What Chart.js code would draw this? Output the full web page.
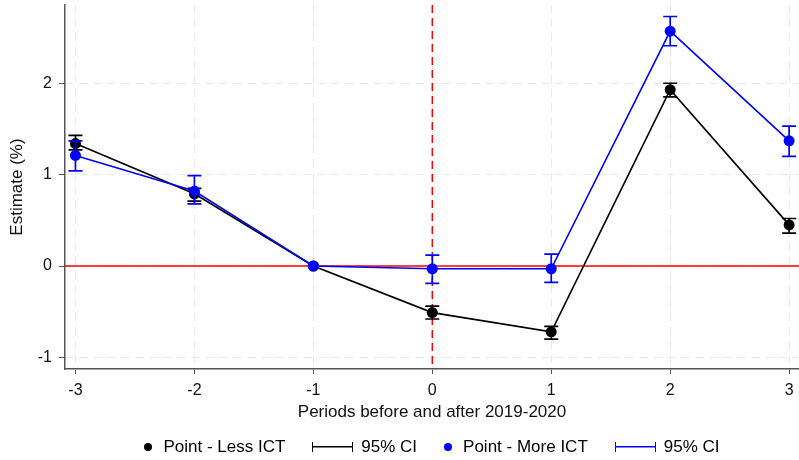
<!DOCTYPE html>
<html>
<head>
<meta charset="utf-8">
<script src="https://cdn.jsdelivr.net/npm/chart.js@4.4.0/dist/chart.umd.min.js"></script>
<style>
html, body { margin: 0; padding: 0; background: #fff; }
#wrap { position: relative; width: 799px; height: 460px; }
#legend {
  position: absolute; left: 65px; width: 734px; top: 436px; height: 22px;
  display: flex; justify-content: center; align-items: center;
  font: 17px "Liberation Sans", Arial, sans-serif; color: #000;
}
.item { display: flex; align-items: center; margin-right: 27px; }
.item:last-child { margin-right: 0; }
.dot { width: 8px; height: 8px; border-radius: 50%; margin-right: 11px; }
.ci { width: 41px; height: 10px; box-sizing: border-box; margin-right: 8px; }
</style>
</head>
<body>
<div id="wrap">
  <canvas id="chart" width="799" height="460"></canvas>
  <div id="legend"></div>
</div>
<script>
// periods relative to 2019-2020
const periods = [-3, -2, -1, 0, 1, 2, 3];

// Less ICT
const lessEst = [1.34, 0.79, 0, -0.51, -0.72, 1.93, 0.45];
const lessLo  = [1.27, 0.71, 0, -0.58, -0.80, 1.85, 0.36];
const lessHi  = [1.43, 0.85, 0, -0.44, -0.66, 2.00, 0.52];

// More ICT
const moreEst = [1.21, 0.82, 0, -0.03, -0.03, 2.57, 1.37];
const moreLo  = [1.04, 0.68, 0, -0.19, -0.18, 2.41, 1.20];
const moreHi  = [1.37, 0.99, 0, 0.12, 0.13, 2.73, 1.53];

const legendItems = [
  {kind: 'dot', color: '#000000', text: 'Point - Less ICT'},
  {kind: 'ci', color: '#000000', text: '95% CI'},
  {kind: 'dot', color: '#0000ff', text: 'Point - More ICT'},
  {kind: 'ci', color: '#0000ff', text: '95% CI'}
];

const eventPeriod = 0;
const zeroLine = 0;
const FONT = '"Liberation Sans", Arial, sans-serif';

function pts(ys){
  return periods.map((p, i) => ({x: p, y: ys[i]}));
}

// red reference lines under the data
const refLines = {
  id: 'refLines',
  beforeDatasetsDraw(chart){
    const {ctx, chartArea: a, scales: {x, y}} = chart;
    ctx.save();
    ctx.strokeStyle = '#ff0000';
    ctx.lineWidth = 1.5;
    const py = y.getPixelForValue(zeroLine);
    ctx.beginPath(); ctx.moveTo(a.left, py); ctx.lineTo(a.right, py); ctx.stroke();
    const px = x.getPixelForValue(eventPeriod);
    ctx.setLineDash([8, 5]);
    ctx.beginPath(); ctx.moveTo(px, a.top); ctx.lineTo(px, a.bottom); ctx.stroke();
    ctx.restore();
  }
};

// capped CI bars, drawn just before their own series
const errorBars = {
  id: 'errorBars',
  beforeDatasetDraw(chart, args){
    const ds = chart.data.datasets[args.index];
    if(!ds.lo) return;
    const {ctx, scales: {x, y}} = chart;
    ctx.save();
    ctx.strokeStyle = ds.borderColor;
    ctx.lineWidth = 1.7;
    periods.forEach((p, i) => {
      if(ds.lo[i] === ds.hi[i]) return;
      const px = x.getPixelForValue(p);
      const y1 = y.getPixelForValue(ds.lo[i]);
      const y2 = y.getPixelForValue(ds.hi[i]);
      ctx.beginPath();
      ctx.moveTo(px, y1); ctx.lineTo(px, y2);
      ctx.moveTo(px - 7, y1); ctx.lineTo(px + 7, y1);
      ctx.moveTo(px - 7, y2); ctx.lineTo(px + 7, y2);
      ctx.stroke();
    });
    ctx.restore();
  }
};

new Chart(document.getElementById('chart'), {
  type: 'scatter',
  data: {
    datasets: [{
      label: 'Point - More ICT',
      data: pts(moreEst),
      lo: moreLo, hi: moreHi,
      showLine: true,
      borderColor: '#0000ff',
      backgroundColor: '#0000ff',
      borderWidth: 1.6,
      pointRadius: 5.5,
      pointBorderWidth: 0
    }, {
      label: 'Point - Less ICT',
      data: pts(lessEst),
      lo: lessLo, hi: lessHi,
      showLine: true,
      borderColor: '#000000',
      backgroundColor: '#000000',
      borderWidth: 1.6,
      pointRadius: 5.5,
      pointBorderWidth: 0
    }]
  },
  options: {
    responsive: false,
    animation: false,
    devicePixelRatio: 1,
    layout: { autoPadding: false, padding: {top: 5, right: 0, bottom: 36, left: 0} },
    plugins: { legend: {display: false}, tooltip: {enabled: false} },
    scales: {
      x: {
        type: 'linear', min: -3.088, max: 3.083,
        afterFit: s => { s.height = 55; s.paddingLeft = 0; s.paddingRight = 0; },
        ticks: { stepSize: 1, includeBounds: false, padding: 7, maxRotation: 0,
                 color: '#111', font: {family: FONT, size: 16} },
        grid: { color: '#e8e8e8', lineWidth: 1, tickColor: '#555', tickLength: 5 },
        border: { color: '#555', width: 1.5, dash: [8, 6] },
        title: { display: true, text: 'Periods before and after 2019-2020', color: '#111',
                 font: {family: FONT, size: 17}, padding: {top: 0, bottom: 1} }
      },
      y: {
        min: -1.127, max: 2.856,
        afterFit: s => { s.width = 65; s.paddingTop = 0; s.paddingBottom = 0; },
        ticks: { stepSize: 1, includeBounds: false, padding: 7,
                 color: '#111', font: {family: FONT, size: 16} },
        grid: { color: '#e8e8e8', lineWidth: 1, tickColor: '#555', tickLength: 6 },
        border: { color: '#555', width: 1.5, dash: [8, 6] },
        title: { display: true, text: 'Estimate (%)', color: '#111',
                 font: {family: FONT, size: 17}, padding: {top: 7, bottom: 0} }
      }
    }
  },
  plugins: [refLines, errorBars]
});

// legend below the plot
const leg = document.getElementById('legend');
legendItems.forEach(it => {
  const item = document.createElement('div');
  item.className = 'item';
  const sym = document.createElement('span');
  if(it.kind === 'dot'){
    sym.className = 'dot';
    sym.style.background = it.color;
  } else {
    sym.className = 'ci';
    sym.style.borderLeft = '1.5px solid ' + it.color;
    sym.style.borderRight = '1.5px solid ' + it.color;
    sym.style.background = 'linear-gradient(' + it.color + ',' + it.color + ') center / 100% 1.5px no-repeat';
  }
  const txt = document.createElement('span');
  txt.textContent = it.text;
  item.appendChild(sym);
  item.appendChild(txt);
  leg.appendChild(item);
});
</script>
</body>
</html>
